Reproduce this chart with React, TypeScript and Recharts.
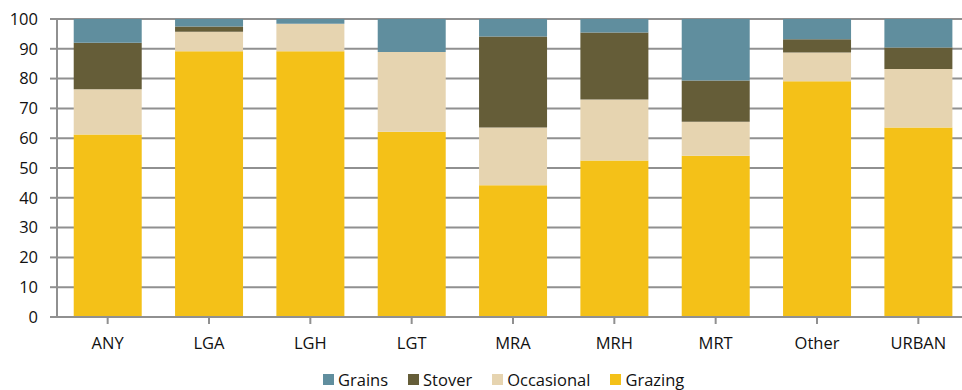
import React from "react";
import { BarChart, Bar, XAxis, YAxis, CartesianGrid, Legend } from "recharts";

const categories = ["ANY", "LGA", "LGH", "LGT", "MRA", "MRH", "MRT", "Other", "URBAN"];
const grazing = [61.2, 89.2, 89.2, 62.2, 44.2, 52.5, 54.1, 79.1, 63.6];
const occasional = [15.2, 6.5, 9.2, 26.7, 19.4, 20.5, 11.4, 9.7, 19.6];
const stover = [15.6, 1.8, 0, 0, 30.5, 22.5, 13.9, 4.4, 7.2];
const grains = [8.0, 2.5, 1.6, 11.1, 5.9, 4.5, 20.6, 6.8, 9.6];
const yTicks = [0, 10, 20, 30, 40, 50, 60, 70, 80, 90, 100];

const seriesNames = ["Grazing", "Occasional", "Stover", "Grains"];
const colors: Record<string, string> = {
  Grazing: "#F4C118",
  Occasional: "#E6D4B0",
  Stover: "#655D38",
  Grains: "#608E9E",
};

const data = categories.map((c, i) => ({
  name: c,
  Grazing: grazing[i],
  Occasional: occasional[i],
  Stover: stover[i],
  Grains: grains[i],
}));

const legendOrder = ["Grains", "Stover", "Occasional", "Grazing"];

const LegendContent = () => (
  <div
    style={{
      height: 32,
      boxSizing: "border-box",
      paddingTop: 11,
      paddingLeft: 323,
      display: "flex",
      alignItems: "center",
      fontFamily: "'Open Sans', sans-serif",
      fontSize: 16.5,
      lineHeight: "20px",
      color: "#111",
    }}
  >
    {legendOrder.map((n) => (
      <div key={n} style={{ display: "flex", alignItems: "center", marginRight: 20 }}>
        <span
          style={{
            display: "inline-block",
            width: 11,
            height: 11,
            background: colors[n],
            marginRight: 4,
          }}
        />
        <span>{n}</span>
      </div>
    ))}
  </div>
);

export default function App() {
  const tickStyle = { fontFamily: "'Open Sans', sans-serif", fontSize: 16.5, fill: "#111" };
  return (
    <div style={{ position: "absolute", left: 0, top: 0, width: 962, height: 390, overflow: "hidden", background: "#fff" }}>
      <BarChart
        width={975}
        height={390}
        data={data}
        margin={{ top: 19, right: 6, left: 0, bottom: 0 }}
        barCategoryGap="16.5%"
      >
        <CartesianGrid vertical={false} stroke="#909090" strokeWidth={2} />
        <XAxis
          dataKey="name"
          height={41}
          tick={tickStyle}
          tickSize={7}
          tickMargin={13}
          axisLine={{ stroke: "#909090", strokeWidth: 2 }}
          tickLine={{ stroke: "#909090", strokeWidth: 2 }}
          interval={0}
        />
        <YAxis
          width={57}
          domain={[0, 100]}
          ticks={yTicks}
          interval={0}
          tick={tickStyle}
          tickSize={7}
          tickMargin={12}
          axisLine={{ stroke: "#909090", strokeWidth: 2 }}
          tickLine={{ stroke: "#909090", strokeWidth: 2 }}
        />
        <Legend verticalAlign="bottom" height={32} content={<LegendContent />} />
        {seriesNames.map((n) => (
          <Bar key={n} dataKey={n} stackId="a" fill={colors[n]} isAnimationActive={false} />
        ))}
      </BarChart>
    </div>
  );
}
